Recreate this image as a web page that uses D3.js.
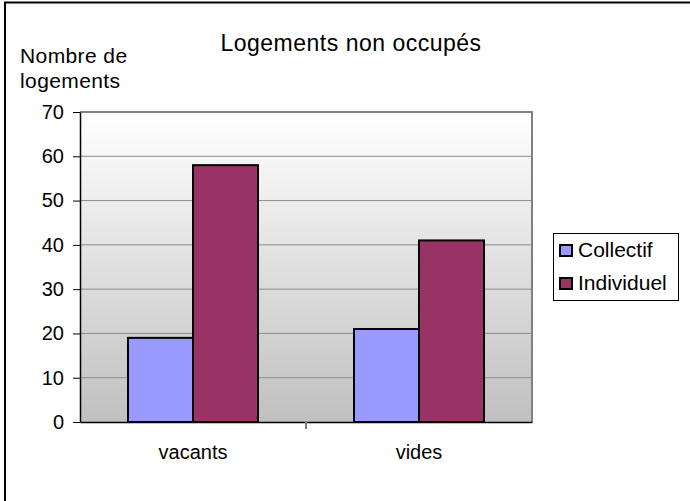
<!DOCTYPE html>
<html><head><meta charset="utf-8">
<script src="https://cdn.jsdelivr.net/npm/d3@7"></script>
<style>body{margin:0;background:#fff}svg{display:block}text{font-family:Arial,"Liberation Sans",sans-serif}</style>
</head><body>
<script>
const categories = ["vacants", "vides"];
const seriesNames = ["Collectif", "Individuel"];
const collectif = [19, 21];
const individuel = [58, 41];
const yTicks = [0, 10, 20, 30, 40, 50, 60, 70];
const colors = ["#9999ff", "#993366"];

const W = 690, H = 501;
const FONT = "Arial, Liberation Sans, sans-serif";
const svg = d3.select("body").append("svg").attr("width", W).attr("height", H);

// outer frame
svg.append("rect").attr("x", 5).attr("y", 2.5).attr("width", 700).attr("height", 520)
  .attr("fill", "#fff").attr("stroke", "#000").attr("stroke-width", 2);

const L = 80, R = 532, T = 112, B = 422;
const y = d3.scaleLinear().domain([0, 70]).range([B, T]);
const x0 = d3.scaleBand().domain(categories).range([L, R]);
const x1 = d3.scaleBand().domain(seriesNames).range([48, 48 + 130]);

const defs = svg.append("defs");
const g = defs.append("linearGradient").attr("id", "bg").attr("x1", 0).attr("y1", 0).attr("x2", 0).attr("y2", 1);
g.append("stop").attr("offset", 0).attr("stop-color", "#ffffff");
g.append("stop").attr("offset", 1).attr("stop-color", "#c0c0c0");

svg.append("rect").attr("x", L).attr("y", T).attr("width", R - L).attr("height", B - T).attr("fill", "url(#bg)");

// gridlines
svg.append("g").selectAll("line").data(yTicks.filter(d => d > 0 && d < 70)).join("line")
  .attr("x1", L).attr("x2", R).attr("y1", d => y(d)).attr("y2", d => y(d))
  .attr("stroke", "#8c8c8c").attr("stroke-width", 1);

// plot frame top & right
svg.append("path").attr("d", `M${L},${T}H${R}V${B}`).attr("fill", "none").attr("stroke", "#808080").attr("stroke-width", 2);

// bars
const data = categories.map((c, i) => ({ c, vals: [collectif[i], individuel[i]] }));
const grp = svg.append("g").selectAll("g").data(data).join("g").attr("transform", d => `translate(${x0(d.c)},0)`);
grp.selectAll("rect").data(d => d.vals.map((v, k) => ({ s: seriesNames[k], v, k }))).join("rect")
  .attr("x", d => x1(d.s)).attr("width", x1.bandwidth())
  .attr("y", d => y(d.v)).attr("height", d => B - y(d.v))
  .attr("fill", d => colors[d.k]).attr("stroke", "#000").attr("stroke-width", 2);

// y axis
const ya = svg.append("g").attr("transform", `translate(${L},0)`)
  .call(d3.axisLeft(y).tickValues(yTicks).tickSize(7).tickPadding(9).tickSizeOuter(0));
ya.select(".domain").attr("stroke", "#000").attr("stroke-width", 1.5);
ya.selectAll(".tick line").attr("stroke", "#000");
ya.selectAll("text").attr("font-size", 20).attr("fill", "#000").attr("font-family", FONT);

// x axis
const xa = svg.append("g").attr("transform", `translate(0,${B})`)
  .call(d3.axisBottom(x0).tickSize(0).tickPadding(23).tickSizeOuter(0));
xa.select(".domain").attr("stroke", "#000").attr("stroke-width", 1.5);
xa.selectAll("text").attr("font-size", 20).attr("fill", "#000").attr("font-family", FONT);
svg.append("line").attr("x1", (L + R) / 2).attr("x2", (L + R) / 2).attr("y1", B).attr("y2", B + 7)
  .attr("stroke", "#808080").attr("stroke-width", 2);

// titles
svg.append("text").attr("x", 351).attr("y", 51).attr("text-anchor", "middle").attr("font-size", 23)
  .attr("letter-spacing", 0.5).text("Logements non occupés");
svg.append("text").attr("x", 20).attr("y", 63).attr("font-size", 21).attr("letter-spacing", 0.4).text("Nombre de");
svg.append("text").attr("x", 20).attr("y", 88).attr("font-size", 21).attr("letter-spacing", 0.4).text("logements");

// legend
const lg = svg.append("g");
lg.append("rect").attr("x", 553.5).attr("y", 233.5).attr("width", 125).attr("height", 67).attr("fill", "#fff").attr("stroke", "#000").attr("stroke-width", 1);
seriesNames.forEach((s, i) => {
  const yy = 245 + i * 33;
  lg.append("rect").attr("x", 560).attr("y", yy).attr("width", 12).attr("height", 11).attr("fill", colors[i]).attr("stroke", "#000").attr("stroke-width", 2);
  lg.append("text").attr("x", 578).attr("y", yy + 12).attr("font-size", 21).text(s);
});
</script>
</body></html>
